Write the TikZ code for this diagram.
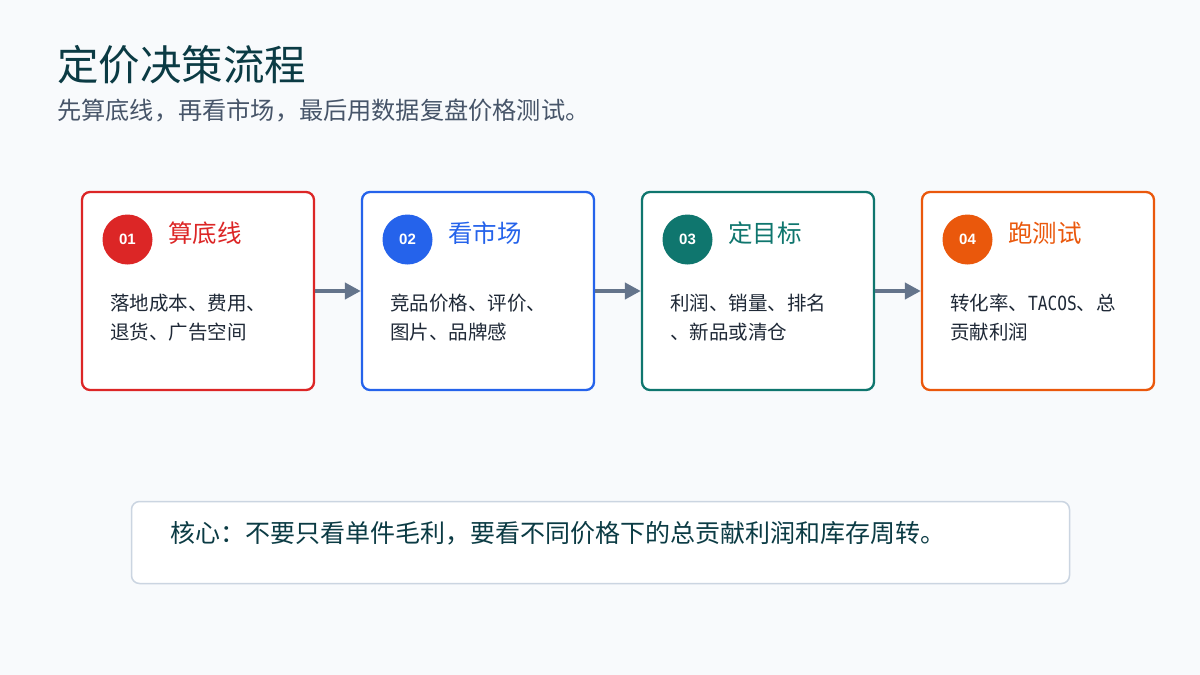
\documentclass[tikz,border=0pt]{standalone}
\usepackage{fontspec}
\setmainfont{Noto Sans CJK SC}
\newfontfamily\numfont{Liberation Sans}
\newfontfamily\tacosfont[FakeStretch=0.83]{DejaVu Sans Mono}
\usetikzlibrary{arrows.meta}
\definecolor{bgc}{HTML}{F8FAFC}
\definecolor{titlec}{HTML}{0B3B44}
\definecolor{subc}{HTML}{475569}
\definecolor{bodyc}{HTML}{1F2937}
\definecolor{redc}{HTML}{DC2626}
\definecolor{bluec}{HTML}{2563EB}
\definecolor{tealc}{HTML}{0F766E}
\definecolor{orangec}{HTML}{EA580C}
\definecolor{arrowc}{HTML}{64748B}
\definecolor{notec}{HTML}{CBD5E1}
\begin{document}
\begin{tikzpicture}[x=1pt,y=-1pt,
  stepbox/.style={rectangle, rounded corners=8pt, line width=2.3pt, fill=white,
    minimum width=232pt, minimum height=198pt, inner sep=0pt},
  numcirc/.style={circle, minimum size=50pt, inner sep=0pt, text=white,
    font=\numfont\bfseries\fontsize{15}{17}\selectfont},
  headtext/.style={anchor=base west, inner sep=0pt, font=\fontsize{24.5}{28}\selectfont},
  bodytext/.style={anchor=base west, inner sep=0pt, text=bodyc, font=\fontsize{19.5}{24}\selectfont},
  flowarrow/.style={draw=arrowc, line width=4pt, -{Triangle[length=16pt,width=16pt]}},
  notebox/.style={rectangle, rounded corners=8pt, line width=1.5pt, draw=notec, fill=white,
    minimum width=938pt, minimum height=82pt, inner sep=0pt}
]
\fill[bgc] (0,0) rectangle (1200,675);
\useasboundingbox (0,0) rectangle (1200,675);

\node[anchor=base west, inner sep=0pt, text=titlec, font=\fontsize{41.5}{48}\selectfont] (title) at (57,80) {定价决策流程};
\node[anchor=base west, inner sep=0pt, text=subc, font=\fontsize{24.2}{28}\selectfont] (subtitle) at (57,119) {先算底线，再看市场，最后用数据复盘价格测试。};

% step 1
\node[stepbox, draw=redc] (b1) at (198,291) {};
\node[numcirc, fill=redc] (c1) at (127.5,239.5) {01};
\node[headtext, text=redc] (h1) at (168,242) {算底线};
\node[bodytext] (t1a) at (110,310.7) {落地成本、费用、};
\node[bodytext] (t1b) at (110,339) {退货、广告空间};

% step 2
\node[stepbox, draw=bluec] (b2) at (478,291) {};
\node[numcirc, fill=bluec] (c2) at (407.5,239.5) {02};
\node[headtext, text=bluec] (h2) at (448,242) {看市场};
\node[bodytext] (t2a) at (390,310.7) {竞品价格、评价、};
\node[bodytext] (t2b) at (390,339) {图片、品牌感};

% step 3
\node[stepbox, draw=tealc] (b3) at (758,291) {};
\node[numcirc, fill=tealc] (c3) at (687.5,239.5) {03};
\node[headtext, text=tealc] (h3) at (728,242) {定目标};
\node[bodytext] (t3a) at (670,310.7) {利润、销量、排名};
\node[bodytext] (t3b) at (670,339) {、新品或清仓};

% step 4
\node[stepbox, draw=orangec] (b4) at (1038,291) {};
\node[numcirc, fill=orangec] (c4) at (967.5,239.5) {04};
\node[headtext, text=orangec] (h4) at (1008,242) {跑测试};
\node[bodytext] (t4a) at (950,310.7) {转化率、{\tacosfont TACOS}、总};
\node[bodytext] (t4b) at (950,339) {贡献利润};

\draw[flowarrow] (b1.east) -- (b2.west);
\draw[flowarrow] (b2.east) -- (b3.west);
\draw[flowarrow] (b3.east) -- (b4.west);

% note
\node[notebox] (note) at (600.5,542.5) {};
\node[anchor=base west, inner sep=0pt, text=titlec, font=\fontsize{25}{30}\selectfont] (notetext) at (170,542.5) {核心：不要只看单件毛利，要看不同价格下的总贡献利润和库存周转。};
\end{tikzpicture}
\end{document}
